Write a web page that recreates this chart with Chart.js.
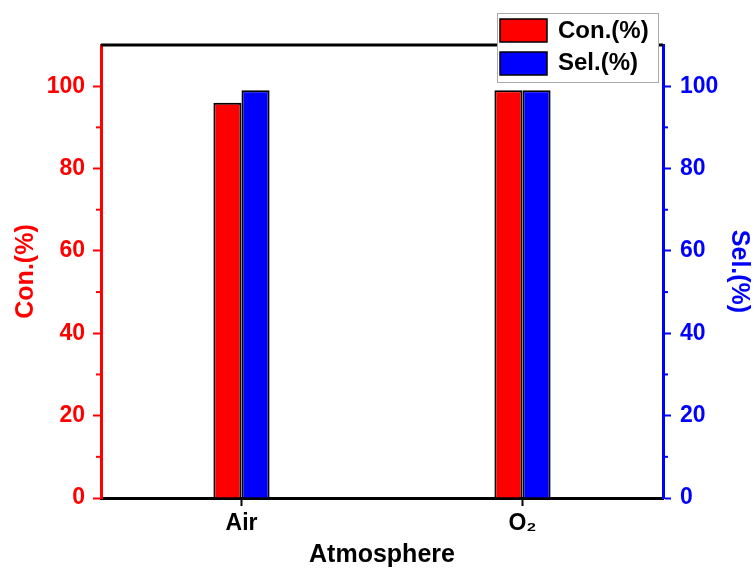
<!DOCTYPE html>
<html><head><meta charset="utf-8">
<script src="https://cdn.jsdelivr.net/npm/chart.js@4.4.0/dist/chart.umd.min.js"></script>
<style>html,body{margin:0;padding:0;background:#fff;}</style>
</head><body>
<canvas id="c" width="755" height="572"></canvas>
<script>
const categories = ['Air', 'O\u2082'];
const conversion = [96, 99];
const selectivity = [99, 99];
const seriesNames = ['Con.(%)', 'Sel.(%)'];
const yMajorTicks = [0, 20, 40, 60, 80, 100];
const yMinorTicks = [10, 30, 50, 70, 90];
const RED = '#ff0000', BLUE = '#0000ff';
const FONT = '"Liberation Sans", Arial, sans-serif';

const extras = {
  id: 'extras',
  afterDraw(chart) {
    const ctx = chart.ctx, a = chart.chartArea;
    const yL = chart.scales.y, yR = chart.scales.y1;
    ctx.save();
    // minor ticks
    ctx.lineWidth = 2;
    yMinorTicks.forEach(v => {
      let p = yL.getPixelForValue(v);
      ctx.strokeStyle = RED; ctx.beginPath(); ctx.moveTo(a.left, p); ctx.lineTo(a.left - 5, p); ctx.stroke();
      p = yR.getPixelForValue(v);
      ctx.strokeStyle = BLUE; ctx.beginPath(); ctx.moveTo(a.right, p); ctx.lineTo(a.right + 5, p); ctx.stroke();
    });
    // top frame line
    ctx.strokeStyle = '#000'; ctx.lineWidth = 3;
    ctx.beginPath(); ctx.moveTo(a.left, a.top); ctx.lineTo(a.right, a.top); ctx.stroke();
    // legend
    const lx = 497, ly = 13, lw = 161, lh = 69;
    ctx.fillStyle = '#fff'; ctx.fillRect(lx, ly, lw, lh);
    ctx.strokeStyle = '#aaaaaa'; ctx.lineWidth = 1;
    ctx.strokeRect(lx + 0.5, ly + 0.5, lw, lh);
    const cols = [RED, BLUE];
    const rows = [[19, 31], [52, 63]];
    ctx.font = 'bold 24px ' + FONT;
    ctx.textBaseline = 'middle'; ctx.textAlign = 'left';
    seriesNames.forEach((n, i) => {
      ctx.fillStyle = cols[i];
      ctx.fillRect(500, rows[i][0], 47, 23);
      ctx.strokeStyle = '#000'; ctx.lineWidth = 1.5;
      ctx.strokeRect(500, rows[i][0], 47, 23);
      ctx.fillStyle = '#000';
      ctx.fillText(n, 558, rows[i][1]);
    });
    ctx.restore();
  }
};

new Chart(document.getElementById('c'), {
  type: 'bar',
  data: {
    labels: categories,
    datasets: [
      { label: seriesNames[0], data: conversion, yAxisID: 'y', backgroundColor: RED, borderColor: '#000', borderWidth: 2, categoryPercentage: 0.2, barPercentage: 1.0 },
      { label: seriesNames[1], data: selectivity, yAxisID: 'y1', backgroundColor: BLUE, borderColor: '#000', borderWidth: 2, categoryPercentage: 0.2, barPercentage: 1.0 }
    ]
  },
  options: {
    responsive: false,
    animation: false,
    layout: { padding: { top: 45, left: 0, right: 0, bottom: 0 } },
    plugins: { legend: { display: false }, tooltip: { enabled: false } },
    scales: {
      x: {
        position: 'bottom',
        offset: true,
        grid: { drawOnChartArea: false, offset: false, tickLength: 8, tickWidth: 2, tickColor: '#000' },
        border: { display: true, color: '#000', width: 3 },
        ticks: { color: '#000', font: { family: FONT, size: 23, weight: 'bold' }, padding: 4, maxRotation: 0 },
        title: { display: true, text: 'Atmosphere', color: '#000', font: { family: FONT, size: 25, weight: 'bold' }, padding: { top: 0, bottom: 2 } },
        afterFit(s) { s.height = 74; }
      },
      y: {
        position: 'left',
        min: 0, max: 110,
        grid: { drawOnChartArea: false, tickLength: 8, tickWidth: 2, tickColor: RED },
        border: { display: true, color: RED, width: 3 },
        ticks: { stepSize: 20, includeBounds: false, color: RED, font: { family: FONT, size: 23, weight: 'bold' }, padding: 8,
          callback: v => yMajorTicks.includes(v) ? String(v) : '' },
        title: { display: true, text: 'Con.(%)', color: RED, font: { family: FONT, size: 25, weight: 'bold' }, padding: { top: 11, bottom: 0 } },
        afterFit(s) { s.width = 101; }
      },
      y1: {
        position: 'right',
        min: 0, max: 110,
        grid: { drawOnChartArea: false, tickLength: 8, tickWidth: 2, tickColor: BLUE },
        border: { display: true, color: BLUE, width: 3 },
        ticks: { stepSize: 20, includeBounds: false, color: BLUE, font: { family: FONT, size: 23, weight: 'bold' }, padding: 9,
          callback: v => yMajorTicks.includes(v) ? String(v) : '' },
        title: { display: true, text: 'Sel.(%)', color: BLUE, font: { family: FONT, size: 25, weight: 'bold' }, padding: { top: 1, bottom: 0 } },
        afterFit(s) { s.width = 92; }
      }
    }
  },
  plugins: [extras]
});
</script>
</body></html>
